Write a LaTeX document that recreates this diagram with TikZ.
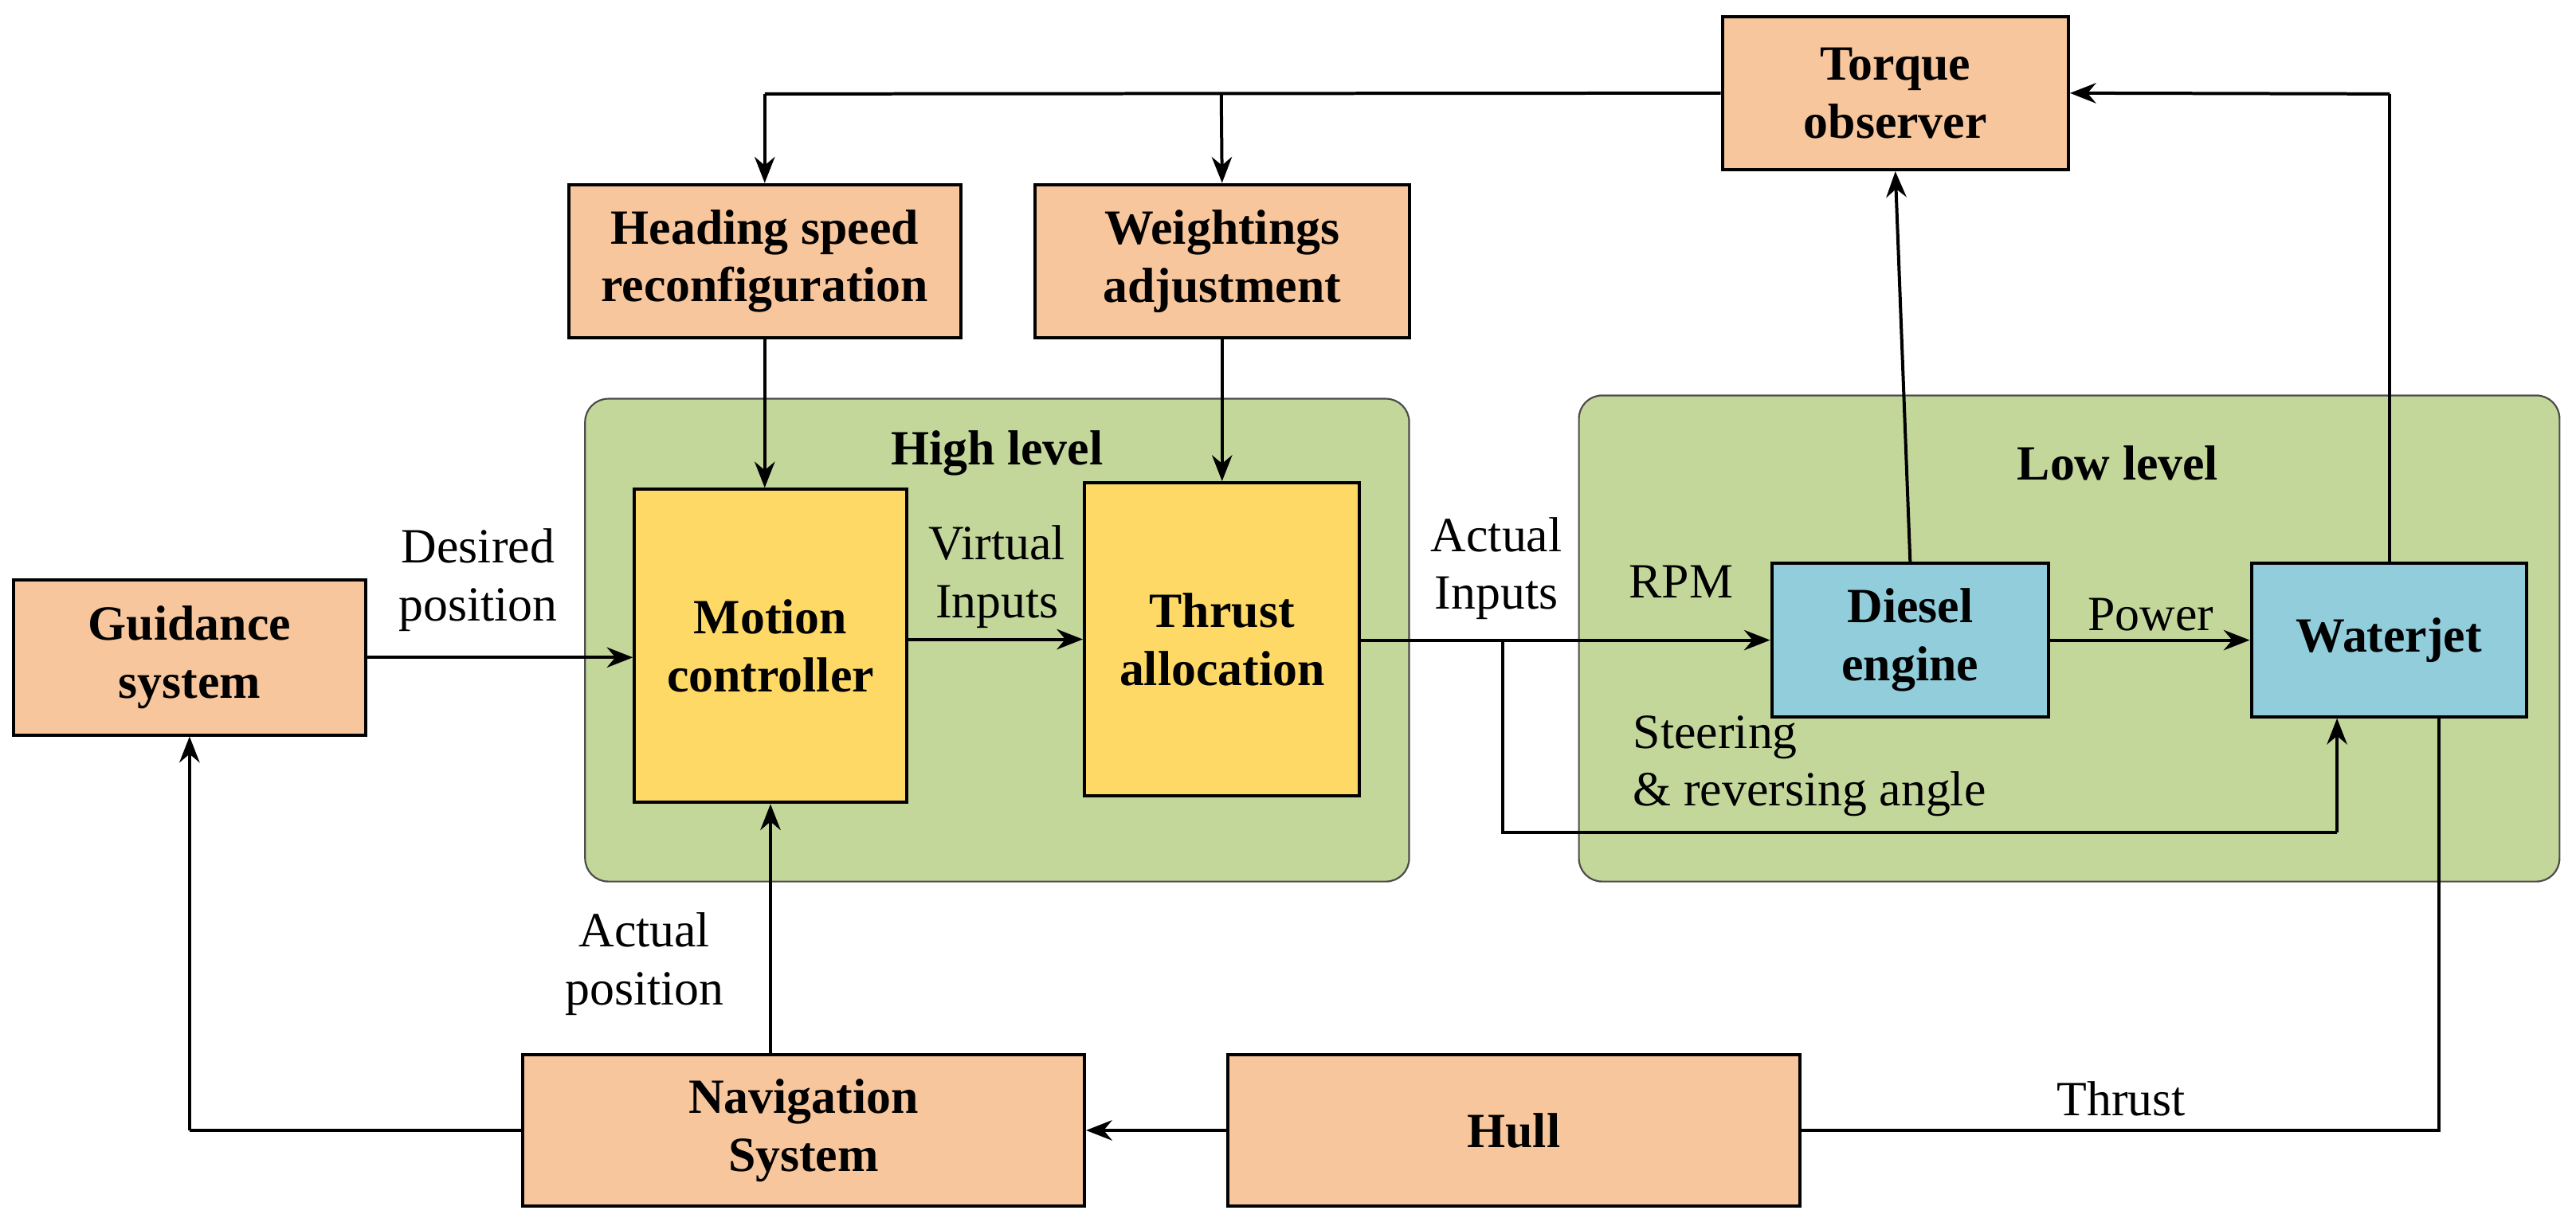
\documentclass[tikz,border=0pt]{standalone}
\usepackage{fontspec}
\setmainfont{Liberation Serif}
\usetikzlibrary{arrows.meta}
\definecolor{org}{RGB}{248,198,156}
\definecolor{yel}{RGB}{255,217,102}
\definecolor{blu}{RGB}{146,205,220}
\definecolor{grn}{RGB}{196,215,155}
\begin{document}
\begin{tikzpicture}[x=0.02cm,y=-0.02cm,
 box/.style={draw=black,line width=1.1pt,font=\fontsize{17}{20}\selectfont\bfseries,align=center,inner sep=0pt},
 ob/.style={box,fill=org},
 grp/.style={draw=black!70,fill=grn,rounded corners=8pt,line width=0.6pt},
 lab/.style={font=\fontsize{17}{20}\selectfont,align=center},
 ar/.style={line width=1.1pt,-{Stealth[length=9pt,width=7pt]}},
 ln/.style={line width=1.1pt}]
\useasboundingbox (0,0) rectangle (1563,739);
\node[grp,minimum width=500*0.02cm,minimum height=293*0.02cm] (hl) at (605,388.5) {};
\node[grp,minimum width=595*0.02cm,minimum height=295*0.02cm] (ll) at (1255.5,387.5) {};
\node[lab,font=\fontsize{17}{20}\selectfont\bfseries] (hlt) at (605,275) {High level};
\node[lab,font=\fontsize{17}{20}\selectfont\bfseries] (llt) at (1285,281) {Low level};
\node[ob,minimum width=210*0.02cm,minimum height=93*0.02cm] (tq) at (1150,56.5) {Torque\\observer};
\node[ob,minimum width=238*0.02cm,minimum height=93*0.02cm] (hs) at (464,158.5) {Heading speed\\reconfiguration};
\node[ob,minimum width=227*0.02cm,minimum height=93*0.02cm] (wa) at (741.5,158.5) {Weightings\\adjustment};
\node[ob,minimum width=214*0.02cm,minimum height=94*0.02cm] (gs) at (115,399) {Guidance\\system};
\node[box,fill=yel,minimum width=165*0.02cm,minimum height=190*0.02cm] (mc) at (467.5,392) {Motion\\controller};
\node[box,fill=yel,minimum width=167*0.02cm,minimum height=190*0.02cm] (ta) at (741.5,388) {Thrust\\allocation};
\node[box,fill=blu,minimum width=168*0.02cm,minimum height=93*0.02cm] (de) at (1159,388.5) {Diesel\\engine};
\node[box,fill=blu,minimum width=167*0.02cm,minimum height=93*0.02cm] (wj) at (1449.5,388.5) {Waterjet};
\node[ob,minimum width=341*0.02cm,minimum height=92*0.02cm] (ns) at (487.5,686) {Navigation\\System};
\node[ob,minimum width=347*0.02cm,minimum height=92*0.02cm] (hu) at (918.5,686) {Hull};
\coordinate (t1) at (464,57);
\coordinate (t2) at (741,57);
\draw[ln] (tq.west) -- (t1);
\draw[ar] (t1) -- (hs.north);
\draw[ar] (t2) -- (wa.north);
\draw[ar] (hs.south) -- (hs.south|-mc.north);
\draw[ar] (wa.south) -- (ta.north);
\draw[ar] (gs.east) -- (gs.east-|mc.west);
\draw[ar] (mc.east|-ta.west) -- (ta.west);
\draw[ar] (ta.east|-de.west) -- (de.west);
\draw[ar] (de.east) -- (wj.west);
\coordinate (b1) at (912,389);
\coordinate (b2) at (912,505);
\coordinate (b3) at (1418,505);
\draw[ln] (b1) -- (b2) -- (b3);
\draw[ar] (b3) -- (b3|-wj.south);
\draw[ar] (de.north) -- (tq.south);
\coordinate (w1) at (1450,57);
\draw[ln] (w1|-wj.north) -- (w1);
\draw[ar] (w1) -- (tq.east);
\coordinate (h1) at (1480,686);
\draw[ln] (h1|-wj.south) -- (h1) -- (hu.east);
\draw[ar] (hu.west) -- (ns.east);
\draw[ar] (ns.north-|mc.south) -- (mc.south);
\coordinate (n1) at (115,686);
\draw[ln] (ns.west) -- (n1);
\draw[ar] (n1) -- (gs.south);
\node[lab] (l1) at (290,352) {Desired\\position};
\node[lab] (l2) at (605,350) {Virtual\\Inputs};
\node[lab] (l3) at (908,345) {Actual\\Inputs};
\node[lab] (l4) at (1020,353) {RPM};
\node[lab] (l5) at (1305,373) {Power};
\node[lab,align=left] (l6) at (1098,465) {Steering\\\& reversing angle};
\node[lab] (l7) at (391,585) {Actual\\position};
\node[lab] (l8) at (1287,667) {Thrust};
\end{tikzpicture}
\end{document}
